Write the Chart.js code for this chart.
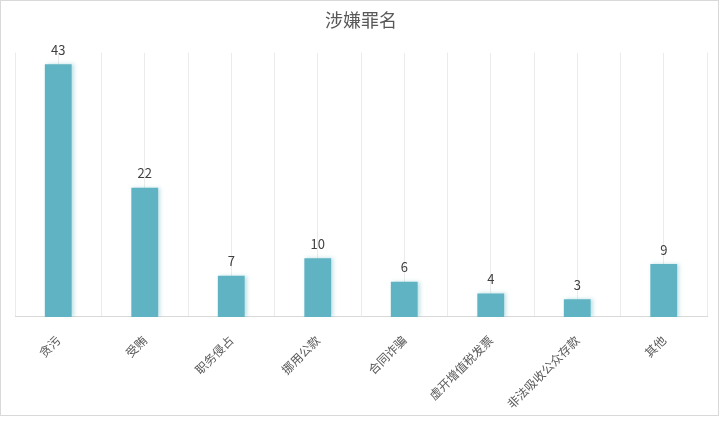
<!DOCTYPE html>
<html>
<head>
<meta charset="utf-8">
<script src="https://cdn.jsdelivr.net/npm/chart.js@4"></script>
<style>
  html, body { margin: 0; padding: 0; background: #fff; }
  #frame { position: absolute; left: 0; top: 0; width: 717px; height: 414px; border: 1px solid #d9d9d9; }
  canvas { display: block; }
</style>
</head>
<body>
<div id="frame"><canvas id="c" width="717" height="414"></canvas></div>
<script>
const categories = ['贪污', '受贿', '职务侵占', '挪用公款', '合同诈骗', '虚开增值税发票', '非法吸收公众存款', '其他'];
const values = [43, 22, 7, 10, 6, 4, 3, 9];
const titleText = '涉嫌罪名';

const FONT = "'Noto Sans CJK SC', 'Noto Sans', sans-serif";

const shadowPlugin = {
  id: 'barShadow',
  beforeDatasetDraw(chart) {
    const ctx = chart.ctx;
    ctx.save();
    ctx.shadowColor = 'rgba(95,179,194,0.4)';
    ctx.shadowBlur = 4;
    ctx.shadowOffsetX = 2;
    ctx.shadowOffsetY = 0;
  },
  afterDatasetDraw(chart) {
    chart.ctx.restore();
  }
};

const labelPlugin = {
  id: 'valueLabels',
  afterDatasetsDraw(chart) {
    const ctx = chart.ctx;
    const meta = chart.getDatasetMeta(0);
    ctx.save();
    ctx.font = '13px ' + FONT;
    ctx.fillStyle = '#404040';
    ctx.textAlign = 'center';
    ctx.textBaseline = 'bottom';
    meta.data.forEach((bar, i) => {
      ctx.fillText(String(values[i]), bar.x, bar.y - 8);
    });
    ctx.restore();
  }
};

new Chart(document.getElementById('c'), {
  type: 'bar',
  data: {
    labels: categories,
    datasets: [{
      data: values,
      backgroundColor: '#5fb3c2',
      borderWidth: 0,
      barPercentage: 0.62,
      categoryPercentage: 0.5,
      xAxisID: 'x',
      yAxisID: 'y'
    }]
  },
  options: {
    responsive: false,
    animation: false,
    devicePixelRatio: 1,
    layout: { padding: { left: 14, right: 11, top: 6, bottom: -12 } },
    plugins: {
      legend: { display: false },
      tooltip: { enabled: false },
      title: {
        display: true,
        text: titleText,
        color: '#595959',
        font: { size: 18, family: FONT, weight: 'normal' },
        padding: { top: 2, bottom: 22 }
      }
    },
    scales: {
      x: {
        type: 'category',
        offset: true,
        grid: { offset: true, color: '#ebebeb', drawTicks: false, lineWidth: 1 },
        border: { display: true, color: '#d9d9d9' },
        ticks: {
          minRotation: 45, maxRotation: 45,
          color: '#595959',
          font: { size: 12, family: FONT },
          padding: 16,
          autoSkip: false
        }
      },
      x2: {
        type: 'category',
        labels: categories,
        position: 'top',
        offset: true,
        grid: { offset: false, color: '#ebebeb', drawTicks: false, lineWidth: 1 },
        border: { display: false },
        ticks: { display: false }
      },
      y: {
        min: 0, max: 45,
        display: false
      }
    }
  },
  plugins: [shadowPlugin, labelPlugin]
});
</script>
</body>
</html>
